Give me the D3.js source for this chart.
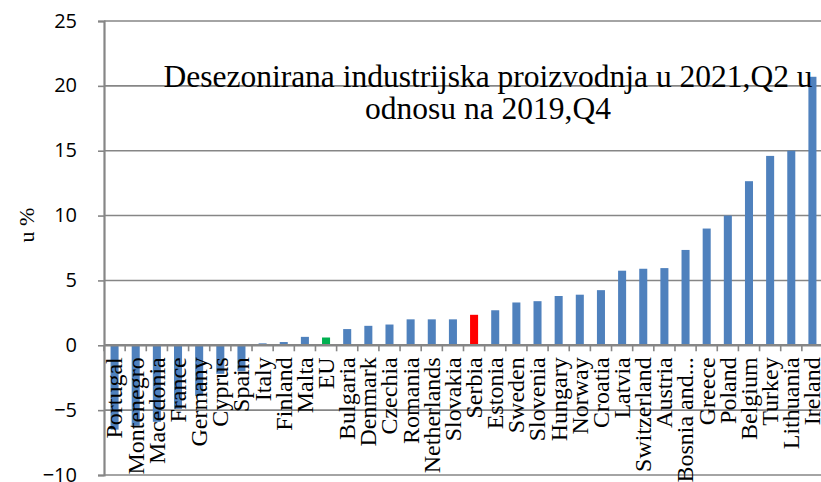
<!DOCTYPE html>
<html><head><meta charset="utf-8">
<script src="https://cdn.jsdelivr.net/npm/d3@7"></script>
<style>html,body{margin:0;padding:0;background:#fff;}svg{display:block;}</style>
</head><body>
<svg id="chart" width="821" height="482"></svg>
<script>
const categories = ["Portugal","Montenegro","Macedonia","France","Germany","Cyprus","Spain","Italy","Finland","Malta","EU","Bulgaria","Denmark","Czechia","Romania","Netherlands","Slovakia","Serbia","Estonia","Sweden","Slovenia","Hungary","Norway","Croatia","Latvia","Switzerland","Austria","Bosnia and...","Greece","Poland","Belgium","Turkey","Lithuania","Ireland"];
const values = [-6.5,-6.2,-5.9,-4.9,-3.9,-2.2,-2.0,0.15,0.25,0.65,0.6,1.25,1.5,1.6,2.0,2.0,2.0,2.35,2.7,3.3,3.4,3.8,3.9,4.25,5.75,5.9,5.95,7.35,9.0,10.0,12.65,14.6,15.0,20.7];
const yTicks = [-10,-5,0,5,10,15,20,25];
const titleLines = ["Desezonirana industrijska proizvodnja u 2021,Q2 u","odnosu na 2019,Q4"];
const yLabel = "u %";
const highlight = {"Serbia":"#ff0000","EU":"#00b050"};

(function(){
const svg = d3.select("#chart");
const pLeft = 104, pRight = 823, pTop = 21, pBottom = 475;
const x = d3.scaleBand().domain(categories).range([pLeft, pRight]).paddingInner(0.62).paddingOuter(0.31);
const y = d3.scaleLinear().domain([-10, 25]).range([pBottom, pTop]);
const grid = "#868686";

svg.append("g").selectAll("line").data(yTicks).join("line")
  .attr("x1", pLeft).attr("x2", 821)
  .attr("y1", d => y(d)).attr("y2", d => y(d))
  .attr("stroke", grid).attr("stroke-width", 1.6);

svg.append("g").selectAll("rect").data(categories).join("rect")
  .attr("x", d => x(d))
  .attr("width", x.bandwidth())
  .attr("y", (d,i) => y(Math.max(0, values[i])))
  .attr("height", (d,i) => Math.abs(y(values[i]) - y(0)))
  .attr("fill", d => highlight[d] || "#4f81bd");

const yAxis = d3.axisLeft(y).tickValues(yTicks).tickSize(6).tickPadding(21).tickFormat(d3.format("d"));
const ya = svg.append("g").attr("transform", `translate(${pLeft},0)`).call(yAxis);
ya.select(".domain").attr("stroke", grid).attr("stroke-width", 2.2);
ya.selectAll(".tick line").attr("stroke", grid).attr("stroke-width", 1.6);
ya.selectAll(".tick text").attr("font-family", "'Open Sans', sans-serif").attr("font-size", 20).attr("fill", "#000").attr("dy", "0.3em");

svg.append("line").attr("x1", pLeft).attr("x2", 821).attr("y1", y(0)).attr("y2", y(0))
  .attr("stroke", grid).attr("stroke-width", 2.6);
const step = x.step();
svg.append("g").selectAll("line").data(categories).join("line")
  .attr("x1", d => x(d) - (step - x.bandwidth())/2)
  .attr("x2", d => x(d) - (step - x.bandwidth())/2)
  .attr("y1", y(0)).attr("y2", y(0) + 6)
  .attr("stroke", grid).attr("stroke-width", 1.6);

svg.append("g").selectAll("text").data(categories).join("text")
  .attr("transform", d => `translate(${x(d) + x.bandwidth()/2},${y(0) + 12}) rotate(-90)`)
  .attr("text-anchor", "end")
  .attr("dy", "0.33em")
  .attr("font-family", "'Liberation Serif', 'Times New Roman', serif")
  .attr("font-size", 24)
  .attr("fill", "#000")
  .text(d => d);

svg.append("text")
  .attr("transform", `translate(34,${(y(0)+y(25))/2 + 42}) rotate(-90)`)
  .attr("text-anchor", "middle")
  .attr("font-family", "'Liberation Serif', 'Times New Roman', serif")
  .attr("font-size", 22).attr("fill", "#000")
  .text(yLabel);

svg.append("g").selectAll("text").data(titleLines).join("text")
  .attr("x", 488).attr("y", (d,i) => 87 + i*32)
  .attr("text-anchor", "middle")
  .attr("font-family", "'Liberation Serif', 'Times New Roman', serif")
  .attr("font-size", 31.5).attr("fill", "#000")
  .text(d => d);
})();
</script>
</body></html>
